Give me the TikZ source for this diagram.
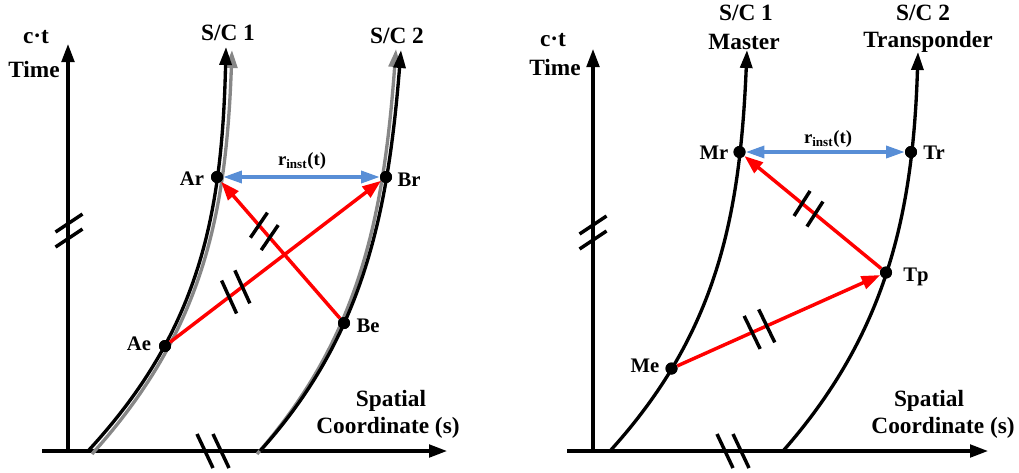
\documentclass[tikz,border=0pt]{standalone}
\usepackage{fontspec}
\setmainfont{Liberation Serif}
\usetikzlibrary{arrows.meta,calc}
\definecolor{sigred}{RGB}{255,0,0}
\definecolor{rngblue}{RGB}{88,142,214}
\definecolor{wlgray}{RGB}{135,135,135}
\begin{document}
\begin{tikzpicture}[x=0.75pt,y=-0.75pt,
  axis/.style={line width=2.3pt,-{Triangle[length=13.5pt,width=9.5pt]}},
  wl/.style={line width=2.5pt,-{Triangle[length=13.5pt,width=9pt]}},
  gwl/.style={line width=2.5pt,draw=wlgray,-{Triangle[length=13.5pt,width=9pt]}},
  sig/.style={line width=2.6pt,draw=sigred,-{Triangle[length=14pt,width=10pt]}},
  rng/.style={line width=2.6pt,draw=rngblue,{Triangle[length=14pt,width=9pt]}-{Triangle[length=14pt,width=9pt]}},
  brk/.style={line width=2.6pt},
  dot/.style={circle,fill=black,inner sep=0pt,minimum size=9pt},
  lab/.style={font=\bfseries\fontsize{17.5}{19}\selectfont,inner sep=0pt},
  plab/.style={font=\bfseries\fontsize{15.5}{17}\selectfont,inner sep=0pt},
  rlab/.style={font=\bfseries\fontsize{14}{16}\selectfont,inner sep=0pt},
]
\useasboundingbox (0,0) rectangle (1019,472);

% ---------------- LEFT DIAGRAM ----------------
\coordinate (LO) at (68,451);
\coordinate (LT) at (68,44);
\coordinate (LX0) at (42,451);
\coordinate (LX1) at (447,451);
\draw[axis] (LO) -- (LT);
\draw[axis] (LX0) -- (LX1);

% axis breaks
\coordinate (lv1) at (69,223);
\coordinate (lv2) at (69,238);
\draw[brk] ($(lv1)+(-13.5,9)$) -- ($(lv1)+(13.5,-9)$);
\draw[brk] ($(lv2)+(-13.5,9)$) -- ($(lv2)+(13.5,-9)$);
\coordinate (lh1) at (205,451);
\coordinate (lh2) at (221,451);
\draw[brk] ($(lh1)+(-8,-17)$) -- ($(lh1)+(8,17)$);
\draw[brk] ($(lh2)+(-8,-17)$) -- ($(lh2)+(8,17)$);

% world lines (gray = measured, black = modelled)
\draw[gwl] (92,454) .. controls (203,331) and (226,215) .. (232,50);
\draw[wl] (88,451) .. controls (200,330) and (222,215) .. (226,47);
\draw[gwl] (257,454) .. controls (362,335) and (384,210) .. (396,49);
\draw[wl] (260,451) .. controls (365,335) and (388,210) .. (401,50);

% events
\node[dot] (Ar) at (217,177) {};
\node[dot] (Br) at (386,177) {};
\node[dot] (Ae) at (165,346) {};
\node[dot] (Be) at (344,323) {};

\draw[rng] (Ar) -- (Br);
\draw[sig] (Ae) -- (Br);
\draw[sig] (Be) -- (Ar);
\node[dot] at (Ar) {};
\node[dot] at (Br) {};
\node[dot] at (Ae) {};
\node[dot] at (Be) {};

% signal breaks
\coordinate (k1) at ($(Ae)!0.29!(Br)$);
\coordinate (k2) at ($(Ae)!0.35!(Br)$);
\draw[brk] ($(k1)+(-7.5,-16.5)$) -- ($(k1)+(7.5,16.5)$);
\draw[brk] ($(k2)+(-7.5,-16.5)$) -- ($(k2)+(7.5,16.5)$);
\coordinate (k3) at ($(Ar)!0.33!(Be)$);
\coordinate (k4) at ($(Ar)!0.415!(Be)$);
\draw[brk] ($(k3)+(-8.5,12.5)$) -- ($(k3)+(8.5,-12.5)$);
\draw[brk] ($(k4)+(-8.5,12.5)$) -- ($(k4)+(8.5,-12.5)$);

% labels
\node[lab] (lct) at (36,37) {c·t};
\node[lab] (ltime) at (34,70) {Time};
\node[lab] (lsc1) at (228,33) {S/C 1};
\node[lab] (lsc2) at (397,36) {S/C 2};
\node[plab] (lAr) at (192,179) {Ar};
\node[plab] (lBr) at (409,180) {Br};
\node[plab] (lAe) at (139,344) {Ae};
\node[plab] (lBe) at (368,326) {Be};
\node[rlab] (lr) at (302,161) {r\textsubscript{inst}(t)};
\node[lab] (lsp) at (391,401) {Spatial};
\node[lab] (lco) at (388,428) {Coordinate (s)};

% ---------------- RIGHT DIAGRAM ----------------
\coordinate (RO) at (593,451);
\coordinate (RT) at (593,49);
\coordinate (RX0) at (567,451);
\coordinate (RX1) at (988,451);
\draw[axis] (RO) -- (RT);
\draw[axis] (RX0) -- (RX1);

\coordinate (rv1) at (593,225);
\coordinate (rv2) at (593,240);
\draw[brk] ($(rv1)+(-13.5,9)$) -- ($(rv1)+(13.5,-9)$);
\draw[brk] ($(rv2)+(-13.5,9)$) -- ($(rv2)+(13.5,-9)$);
\coordinate (rh1) at (725,451);
\coordinate (rh2) at (741,451);
\draw[brk] ($(rh1)+(-8,-17)$) -- ($(rh1)+(8,17)$);
\draw[brk] ($(rh2)+(-8,-17)$) -- ($(rh2)+(8,17)$);

\draw[wl] (610,451) .. controls (718,332) and (740,215) .. (747,50);
\draw[wl] (783,451) .. controls (886,334) and (913,215) .. (918,52);

\node[dot] (Mr) at (739.5,152) {};
\node[dot] (Tr) at (911,152) {};
\node[dot] (Tp) at (886,272.5) {};
\node[dot] (Me) at (671.5,368.5) {};

\draw[rng] (Mr) -- (Tr);
\draw[sig] (Me) -- (Tp);
\draw[sig] (Tp) -- (Mr);
\node[dot] at (Mr) {};
\node[dot] at (Tr) {};
\node[dot] at (Tp) {};
\node[dot] at (Me) {};

\coordinate (k5) at ($(Me)!0.376!(Tp)$);
\coordinate (k6) at ($(Me)!0.444!(Tp)$);
\draw[brk] ($(k5)+(-8,-16.5)$) -- ($(k5)+(8,16.5)$);
\draw[brk] ($(k6)+(-8,-16.5)$) -- ($(k6)+(8,16.5)$);
\coordinate (k7) at ($(Tp)!0.485!(Mr)$);
\coordinate (k8) at ($(Tp)!0.573!(Mr)$);
\draw[brk] ($(k7)+(-8,12.5)$) -- ($(k7)+(8,-12.5)$);
\draw[brk] ($(k8)+(-8,12.5)$) -- ($(k8)+(8,-12.5)$);

\node[lab] (rct) at (553,40) {c·t};
\node[lab] (rtime) at (555,68) {Time};
\node[lab] (rsc1) at (746,13) {S/C 1};
\node[lab] (rmas) at (744,42) {Master};
\node[lab] (rsc2) at (923,13) {S/C 2};
\node[lab] (rtra) at (928,42) {Transponder};
\node[plab] (lMr) at (714,153) {Mr};
\node[plab] (lTr) at (934,153) {Tr};
\node[plab] (lTp) at (916,277) {Tp};
\node[plab] (lMe) at (645,366) {Me};
\node[rlab] (rr) at (828,139) {r\textsubscript{inst}(t)};
\node[lab] (rsp) at (929,401) {Spatial};
\node[lab] (rco) at (943,428) {Coordinate (s)};
\end{tikzpicture}
\end{document}
